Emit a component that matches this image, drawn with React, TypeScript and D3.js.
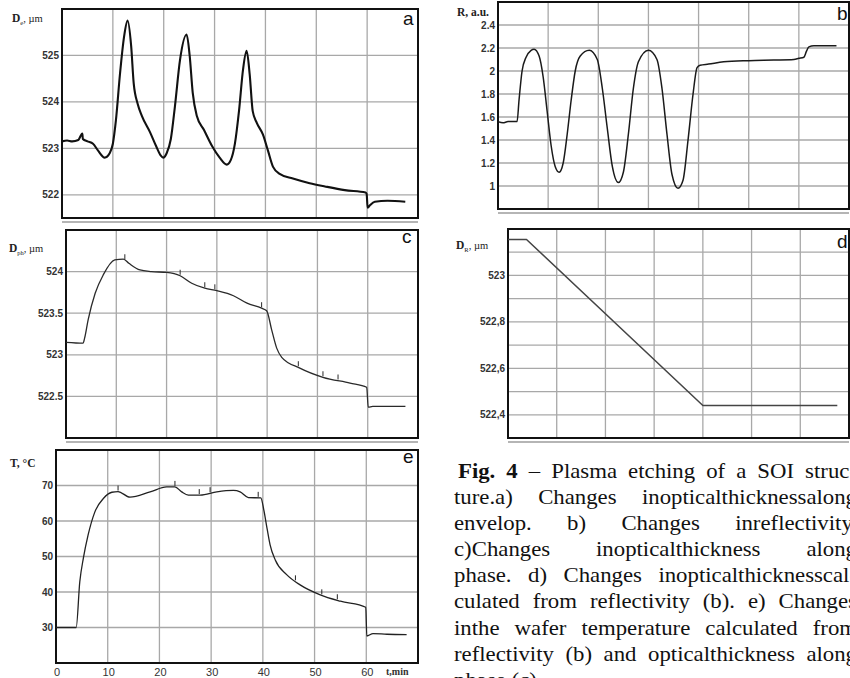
import * as d3 from "d3";
import { useEffect, useRef } from "react";

const width = 850,
  height = 678;

const timeDomain = [0, 70];
const gridTimes = [10, 20, 30, 40, 50, 60];
const timeLabels = [0, 10, 20, 30, 40, 50, 60];

// a) optical thickness along envelope, um
const envT = [0, 1, 2, 3.2, 4.0, 4.1, 5, 6.1, 7.1, 8.4, 9.4, 10, 10.6, 11.4, 12.2, 12.9, 13.6, 14.1, 14.9, 15.7, 17.3, 18.5, 19.4, 19.9, 20.6, 21.4, 22.2, 23.2, 24.5, 25.1, 25.7, 26.5, 27.9, 29.5, 31, 32.4, 33.2, 34, 34.8, 35.6, 36.3, 36.9, 37.5, 38.3, 39.5, 40.5, 41.5, 42.8, 45.4, 48.7, 51.7, 55.6, 59.7, 59.9, 60.1, 60.6, 61.5, 64, 67.5];
const envD = [523.15, 523.17, 523.15, 523.18, 523.32, 523.2, 523.15, 523.1, 522.95, 522.8, 522.9, 523.1, 523.6, 524.6, 525.4, 525.75, 525.2, 524.4, 523.95, 523.7, 523.35, 523.05, 522.85, 522.8, 522.9, 523.2, 523.9, 524.9, 525.45, 525.0, 524.2, 523.7, 523.4, 523.05, 522.8, 522.65, 522.75, 523.1, 523.8, 524.7, 525.1, 524.6, 523.8, 523.55, 523.3, 522.95, 522.6, 522.45, 522.35, 522.25, 522.18, 522.1, 522.05, 522.02, 521.72, 521.78, 521.85, 521.87, 521.85];

// b) reflectivity, a.u.
const reflT = [0, 1, 2, 3, 3.8, 4.2, 4.8, 5.6, 6.6, 7.2, 8.2, 9.0, 9.8, 10.6, 11.4, 12.2, 13, 13.8, 14.6, 15.4, 16.4, 18.2, 19.8, 20.8, 21.8, 22.8, 24, 25, 26, 27, 28, 30, 31.7, 32.7, 33.7, 34.7, 35.9, 36.9, 37.9, 38.9, 39.7, 40.3, 42, 45, 50, 55, 59, 60, 61, 61.5, 62, 63, 67.5];
const reflR = [1.56, 1.55, 1.56, 1.56, 1.56, 1.75, 2.0, 2.12, 2.18, 2.19, 2.13, 1.95, 1.65, 1.35, 1.17, 1.12, 1.2, 1.45, 1.75, 2.0, 2.13, 2.18, 2.1, 1.85, 1.5, 1.17, 1.03, 1.12, 1.45, 1.85, 2.08, 2.18, 2.1, 1.85, 1.45, 1.1, 0.98, 1.05, 1.4, 1.8, 2.03, 2.05, 2.06, 2.08, 2.09, 2.095, 2.1, 2.11, 2.12, 2.17, 2.21, 2.22, 2.22];

// c) optical thickness along phase, um
const phaseT = [0, 3.4, 3.7, 4.4, 5.8, 7.4, 9.7, 11.4, 12.5, 14.7, 17, 20, 22.7, 25, 27.6, 30, 33.3, 36, 38.9, 39.9, 40.9, 41.9, 42.9, 46.5, 51.1, 56.5, 59.8, 60.1, 61, 64, 67.5];
const phaseD = [523.15, 523.14, 523.2, 523.42, 523.74, 523.96, 524.14, 524.15, 524.1, 524.02, 524.0, 523.99, 523.95, 523.86, 523.8, 523.77, 523.71, 523.62, 523.56, 523.53, 523.3, 523.08, 522.97, 522.84, 522.73, 522.66, 522.61, 522.37, 522.38, 522.38, 522.38];
const phaseMarks = [11.7, 22.7, 27.6, 29.6, 38.9, 46.2, 51.1, 54.1];

// d) optical thickness from reflectivity, um
const reflThT = [0, 3.8, 40, 67.6];
const reflThD = [523.155, 523.155, 522.44, 522.44];

// e) wafer temperature, C
const tempT = [0, 3.9, 4.6, 5.3, 6.2, 7.5, 9.2, 10.8, 12, 14.3, 18.2, 21.4, 23, 24.3, 25.6, 27.9, 31.1, 34.3, 35.6, 37.2, 39.6, 40.2, 40.8, 41.4, 42.4, 44.6, 47.2, 51.1, 55, 59.9, 60.1, 61.3, 64, 67.8];
const tempC = [30, 30, 42.9, 49.6, 56, 62.5, 66.4, 68.1, 68.3, 66.7, 68.2, 69.6, 69.6, 68.2, 67.3, 67.3, 68.2, 68.6, 68.2, 66.6, 66.5, 63, 58, 53.3, 49, 44.9, 42, 39.2, 37.4, 35.7, 27.6, 28.3, 28.1, 28];
const tempMarks = [12, 23, 27.7, 29.8, 39.1, 46.3, 51.4, 54.4];

const captionLines = [
  "ture.a) Changes inopticalthicknessalong",
  "envelop. b) Changes inreflectivity.",
  "c)Changes inopticalthickness along",
  "phase. d) Changes inopticalthicknesscal-",
  "culated from reflectivity (b). e) Changes",
  "inthe wafer temperature calculated from",
  "reflectivity (b) and opticalthickness along",
];

const sans = "'Liberation Sans', Arial, sans-serif";
const serif = "'Liberation Serif', 'Times New Roman', serif";

const Panel = ({ p }) => {
  const x = d3.scaleLinear(timeDomain, [p.left, p.right]);
  const y = d3.scaleLinear(p.yDomain, [p.bottom, p.top]);
  const line = d3
    .line((d, i) => x(p.t[i]), (d) => y(d))
    .curve(p.curve || d3.curveMonotoneX);
  const valueAt = (m) => {
    const i = Math.max(1, d3.bisectLeft(p.t, m));
    const k = (m - p.t[i - 1]) / (p.t[i] - p.t[i - 1]);
    return p.v[i - 1] + k * (p.v[i] - p.v[i - 1]);
  };
  return (
    <g>
      {/* grey shadow line under the frame, from the scan */}
      {p.shadow && (
        <line x1={p.left} x2={p.right} y1={p.bottom + 4} y2={p.bottom + 4} stroke="#b5b5b5" strokeWidth={2} />
      )}
      <g stroke="#a8a8a8" strokeWidth={1.3}>
        {gridTimes.map((g) => (
          <line key={g} x1={x(g)} x2={x(g)} y1={p.top} y2={p.bottom} />
        ))}
        {p.grid.map((g) => (
          <line key={g} x1={p.left} x2={p.right} y1={y(g)} y2={y(g)} />
        ))}
      </g>
      <rect x={p.left} y={p.top} width={p.right - p.left} height={p.bottom - p.top} fill="none" stroke="#111" strokeWidth={2} />
      <g fontFamily={sans} fontSize={10} fontWeight="bold" fill="#333" textAnchor="end">
        {p.ticks.map((v) => (
          <text key={v} x={p.left - 3} y={y(v) + 3.5}>
            {p.fmt(v)}
          </text>
        ))}
      </g>
      <path d={line(p.v)} fill="none" stroke={p.stroke} strokeWidth={p.strokeWidth} strokeLinejoin="round" />
      {(p.marks || []).map((m) => (
        <line key={m} x1={x(m)} x2={x(m)} y1={y(valueAt(m)) - 1} y2={y(valueAt(m)) - 6} stroke={p.stroke} strokeWidth={1} />
      ))}
      <text x={p.letterX} y={p.letterY} fontFamily={sans} fontSize={19} fill="#111">
        {p.letter}
      </text>
      <text x={p.labelX} y={p.labelY} fontFamily={serif} fontSize={10.5} fill="#222">
        <tspan fontWeight="bold" fontSize={11.5}>{p.label[0]}</tspan>
        {p.label[1] && (
          <tspan fontSize={6.5} dy={3}>
            {p.label[1]}
          </tspan>
        )}
        <tspan dy={p.label[1] ? -3 : 0}>{p.label[2]}</tspan>
      </text>
      {p.xLabels && (
        <g fontFamily={sans} fontSize={11} fill="#333" textAnchor="middle">
          {timeLabels.map((t) => (
            <text key={t} x={x(t) + 1} y={p.bottom + 13}>
              {t}
            </text>
          ))}
          <text x={386} y={p.bottom + 12} fontFamily={serif} fontWeight="bold" fontSize={10} textAnchor="start">
            t,min
          </text>
        </g>
      )}
    </g>
  );
};

const panels = [
  {
    left: 62, right: 418, top: 9, bottom: 218,
    yDomain: [521.5, 526], grid: [522, 523, 524, 525], ticks: [522, 523, 524, 525], fmt: (v) => `${v}`,
    t: envT, v: envD, stroke: "#111", strokeWidth: 2.1,
    letter: "a", letterX: 403, letterY: 25,
    label: ["D", "e", ", µm"], labelX: 12, labelY: 22, shadow: true,
  },
  {
    left: 498, right: 849, top: 2, bottom: 209,
    yDomain: [0.8, 2.6], grid: [1, 1.2, 1.4, 1.6, 1.8, 2, 2.2, 2.4], ticks: [1, 1.2, 1.4, 1.6, 1.8, 2, 2.2, 2.4], fmt: (v) => `${v}`,
    t: reflT, v: reflR, stroke: "#1a1a1a", strokeWidth: 1.5,
    letter: "b", letterX: 837, letterY: 20,
    label: ["R, a.u.", "", ""], labelX: 457, labelY: 16, shadow: true,
  },
  {
    left: 66, right: 418, top: 230, bottom: 438,
    yDomain: [522, 524.5], grid: [522.5, 523, 523.5, 524], ticks: [522.5, 523, 523.5, 524], fmt: (v) => `${v}`,
    t: phaseT, v: phaseD, marks: phaseMarks, stroke: "#2a2a2a", strokeWidth: 1.3,
    letter: "c", letterX: 402, letterY: 243,
    label: ["D", "ph", ", µm"], labelX: 9, labelY: 252, shadow: true,
  },
  {
    left: 508, right: 849, top: 229, bottom: 438,
    yDomain: [522.3, 523.2], grid: [522.4, 522.5, 522.6, 522.7, 522.8, 522.9, 523, 523.1], ticks: [522.4, 522.6, 522.8, 523], fmt: (v) => d3.format(".1~f")(v).replace(".", ","),
    t: reflThT, v: reflThD, curve: d3.curveLinear, stroke: "#444", strokeWidth: 1.5,
    letter: "d", letterX: 837, letterY: 248,
    label: ["D", "R", ", µm"], labelX: 456, labelY: 249, shadow: true,
  },
  {
    left: 56, right: 418, top: 450, bottom: 663,
    yDomain: [20, 80], grid: [30, 40, 50, 60, 70], ticks: [30, 40, 50, 60, 70], fmt: (v) => `${v}`,
    t: tempT, v: tempC, marks: tempMarks, stroke: "#222", strokeWidth: 1.3,
    letter: "e", letterX: 403, letterY: 463,
    label: ["T, °C", "", ""], labelX: 10, labelY: 467, xLabels: true,
  },
];

// caption is a justified column, cut by the right edge of the picture
const capLeft = 454,
  capRight = 857,
  capStretch = 1.06;

const Caption = () => {
  const ref = useRef(null);
  useEffect(() => {
    d3.select(ref.current)
      .selectAll("text.just")
      .each(function () {
        const natural = this.getComputedTextLength();
        const spaces = (this.textContent.match(/ /g) || []).length;
        const target = +this.getAttribute("data-w");
        if (spaces) this.style.wordSpacing = `${Math.max(0, (target - natural) / spaces)}px`;
      });
  }, []);
  const lineY = (i) => 478 + i * 26.1;
  const indent = 4 / capStretch;
  const full = (capRight - capLeft) / capStretch;
  return (
    <g ref={ref} transform={`translate(${capLeft},0) scale(${capStretch},1)`} fontFamily={serif} fontSize={21.5} fill="#111">
      <text className="just" data-w={full - indent} x={indent} y={lineY(0)}>
        <tspan fontWeight="bold">Fig. 4</tspan>
        {" – Plasma etching of a SOI struc-"}
      </text>
      {captionLines.map((s, i) => (
        <text key={i} className="just" data-w={full} x={0} y={lineY(i + 1)}>
          {s}
        </text>
      ))}
      <text x={0} y={lineY(8)}>
        phase (c).
      </text>
    </g>
  );
};

const App = () => {
  return (
    <svg width={width} height={height} style={{ position: "absolute", left: 0, top: 0, background: "white" }}>
      {panels.map((p, i) => (
        <Panel key={i} p={p} />
      ))}
      <Caption />
    </svg>
  );
};

export default App;
